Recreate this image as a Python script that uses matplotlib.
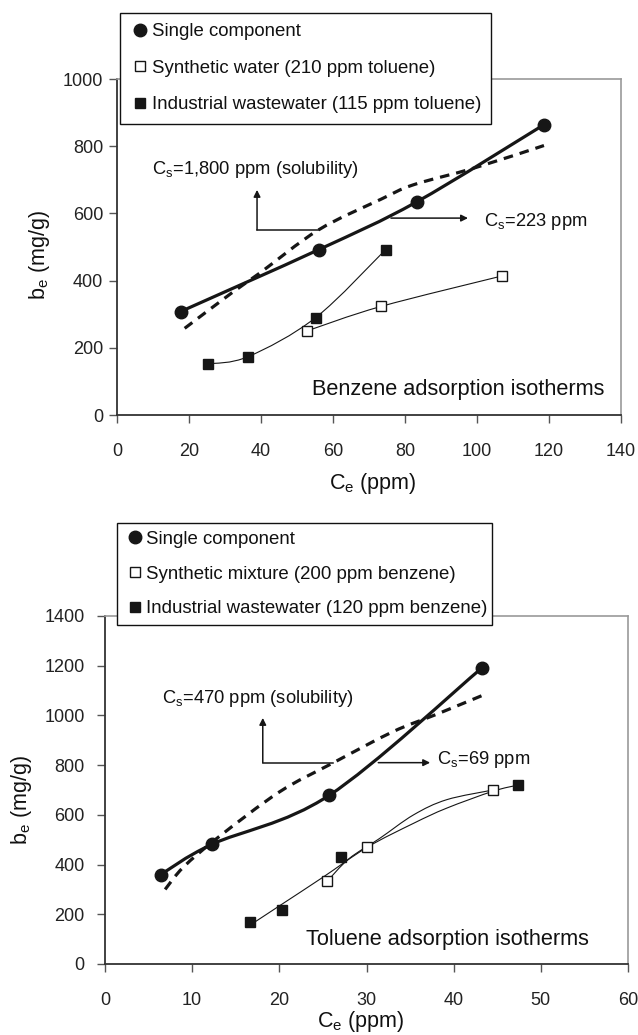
import numpy as np
import matplotlib
matplotlib.use("Agg")
import matplotlib.pyplot as plt
from matplotlib.path import Path
from matplotlib.patches import PathPatch
from matplotlib.lines import Line2D

plt.rcParams["font.family"] = ["Liberation Sans", "DejaVu Sans"]
plt.rcParams["mathtext.default"] = "regular"

# ---------------------------------------------------------
# DATA
# ---------------------------------------------------------
# Benzene (top panel)
benz_single_x = [17.7, 56.0, 83.2, 118.6]
benz_single_y = [308, 492, 634, 864]
benz_synth_x = [52.7, 73.3, 107.0]
benz_synth_y = [250, 323, 414]
benz_ind_x = [25.3, 36.5, 55.2, 74.6]
benz_ind_y = [152, 174, 290, 492]
benz_model_x = [18.8, 31.7, 39.6, 56.0, 73.3, 82.3, 99.2, 118.6]
benz_model_y = [258, 362, 422, 551, 642, 685, 735, 802]

# Toluene (bottom panel)
tol_single_x = [6.4, 12.3, 25.7, 43.2]
tol_single_y = [360, 482, 678, 1190]
tol_synth_x = [25.5, 30.1, 44.5]
tol_synth_y = [333, 470, 700]
tol_ind_x = [16.6, 20.3, 27.1, 47.4]
tol_ind_y = [168, 216, 430, 720]
tol_model_x = [6.9, 9.0, 13.0, 20.0, 26.0, 33.0, 38.0, 43.4]
tol_model_y = [300, 390, 510, 692, 806, 934, 1004, 1082]
tol_ind_fit_x = [16.8, 20.1, 25.0, 30.1, 35.4, 39.2, 44.5, 47.4]
tol_ind_fit_y = [160, 236, 349, 470, 566, 627, 695, 720]
tol_synth_fit_x = [25.5, 28.0, 31.5, 35.4, 39.2, 44.5]
tol_synth_fit_y = [333, 424, 505, 600, 661, 700]

benz_labels = ["Single component",
               "Synthetic water (210 ppm toluene)",
               "Industrial wastewater (115 ppm toluene)"]
tol_labels = ["Single component",
              "Synthetic mixture (200 ppm benzene)",
              "Industrial wastewater (120 ppm benzene)"]

INK = "#161616"
TXT = "#111111"


# ---------------------------------------------------------
# HELPERS
# ---------------------------------------------------------
def smooth_path(xs, ys):
    # excel-like smoothed line: bezier segments through the points
    pts = np.column_stack([xs, ys]).astype(float)
    n = len(pts)
    verts = [pts[0]]
    codes = [Path.MOVETO]
    for i in range(n - 1):
        p0 = pts[max(i - 1, 0)]
        p1 = pts[i]
        p2 = pts[i + 1]
        p3 = pts[min(i + 2, n - 1)]
        verts += [p1 + (p2 - p0) / 6, p2 - (p3 - p1) / 6, p2]
        codes += [Path.CURVE4] * 3
    return Path(verts, codes)


def curve(ax, xs, ys, **kw):
    ax.add_patch(PathPatch(smooth_path(xs, ys), fill=False, color=INK, **kw))


def style_axes(ax, xmax, xstep, ymax, ystep, ypad):
    ax.set_xlim(0, xmax)
    ax.set_ylim(0, ymax)
    ax.set_xticks(np.arange(0, xmax + 1, xstep))
    ax.set_yticks(np.arange(0, ymax + 1, ystep))
    for s in ["top", "right"]:
        ax.spines[s].set_color("#9a9a9a")
        ax.spines[s].set_linewidth(1.2)
    for s in ["left", "bottom"]:
        ax.spines[s].set_color("#333333")
        ax.spines[s].set_linewidth(1.3)
    ax.tick_params(axis="both", length=6, width=1, color="#555555",
                   labelsize=13, labelcolor="#222222")
    ax.tick_params(axis="x", pad=14)
    ax.tick_params(axis="y", pad=ypad)


def elbow_arrow(ax, x0, y0, x_right, y_top):
    ax.plot([x0, x_right], [y0, y0], color=INK, lw=1.1, zorder=3)
    ax.annotate("", xy=(x0, y_top), xytext=(x0, y0),
                arrowprops=dict(arrowstyle="-|>", color=INK, lw=1.1,
                                mutation_scale=10, shrinkA=0, shrinkB=0))


def side_arrow(ax, x0, x1, y):
    ax.annotate("", xy=(x1, y), xytext=(x0, y),
                arrowprops=dict(arrowstyle="-|>", color=INK, lw=1.1,
                                mutation_scale=10, shrinkA=0, shrinkB=0))


def add_legend(fig, ax, labels, box, spacing, pad):
    handles = [
        Line2D([], [], ls="none", marker="o", ms=9, color=INK),
        Line2D([], [], ls="none", marker="s", ms=7.5, mfc="white", mec=INK, mew=1),
        Line2D([], [], ls="none", marker="s", ms=7.5, color=INK),
    ]
    x0, y0, x1, y1 = box
    leg = ax.legend(handles, labels, loc="upper left", mode="expand",
                    bbox_to_anchor=(x0 / 638, 1 - y1 / 1035, (x1 - x0) / 638, (y1 - y0) / 1035),
                    bbox_transform=fig.transFigure, borderaxespad=0,
                    fontsize=13.4, labelspacing=spacing, borderpad=pad,
                    handlelength=1.1, handletextpad=0.05, fancybox=False,
                    framealpha=1, edgecolor="#111111")
    leg.get_frame().set_linewidth(1.0)
    leg.set_zorder(10)
    for t in leg.get_texts():
        t.set_color(TXT)


# ---------------------------------------------------------
# FIGURE
# ---------------------------------------------------------
fig = plt.figure(figsize=(6.38, 10.35), dpi=100)

# ----- Benzene -----
ax1 = fig.add_axes([117 / 638, 1 - 415 / 1035, 504 / 638, 336 / 1035])
style_axes(ax1, 140, 20, 1000, 200, 4)

curve(ax1, benz_model_x, benz_model_y, lw=2.3, linestyle=(0, (3, 2.2)), zorder=2)
curve(ax1, benz_single_x, benz_single_y, lw=2.3, zorder=2)
curve(ax1, benz_synth_x, benz_synth_y, lw=0.8, zorder=2)
curve(ax1, benz_ind_x, benz_ind_y, lw=0.8, zorder=2)
ax1.plot(benz_single_x, benz_single_y, ls="none", marker="o", ms=9, color=INK, zorder=4)
ax1.plot(benz_synth_x, benz_synth_y, ls="none", marker="s", ms=7.5,
         mfc="white", mec=INK, mew=1, zorder=4)
ax1.plot(benz_ind_x, benz_ind_y, ls="none", marker="s", ms=7.5, color=INK, zorder=4)

elbow_arrow(ax1, 38.9, 551, 56.0, 670)
side_arrow(ax1, 76.1, 97.5, 586)
ax1.text(9.6, 730, "C$_s$=1,800 ppm (solubility)", fontsize=13.2, va="center", color=TXT)
ax1.text(102, 576, "C$_s$=223 ppm", fontsize=13.2, va="center", color=TXT)
ax1.text(54.2, 76, "Benzene adsorption isotherms", fontsize=15.7, va="center", color=TXT)

ax1.set_xlabel("C$_e$ (ppm)", fontsize=15.5, color=TXT)
ax1.set_ylabel("b$_e$ (mg/g)", fontsize=15.5, color=TXT)
ax1.xaxis.set_label_coords(0.508, -0.166)
ax1.yaxis.set_label_coords(-0.129, 0.475)
add_legend(fig, ax1, benz_labels, (120, 13, 491, 123), 1.05, 0.55)

# ----- Toluene -----
ax2 = fig.add_axes([105 / 638, 1 - 964 / 1035, 523 / 638, 348 / 1035])
style_axes(ax2, 60, 10, 1400, 200, 8.5)

curve(ax2, tol_model_x, tol_model_y, lw=2.3, linestyle=(0, (3, 2.2)), zorder=2)
curve(ax2, tol_single_x, tol_single_y, lw=2.3, zorder=2)
curve(ax2, tol_synth_fit_x, tol_synth_fit_y, lw=0.8, zorder=2)
curve(ax2, tol_ind_fit_x, tol_ind_fit_y, lw=0.8, zorder=2)
ax2.plot(tol_single_x, tol_single_y, ls="none", marker="o", ms=9, color=INK, zorder=4)
ax2.plot(tol_synth_x, tol_synth_y, ls="none", marker="s", ms=7.5,
         mfc="white", mec=INK, mew=1, zorder=4)
ax2.plot(tol_ind_x, tol_ind_y, ls="none", marker="s", ms=7.5, color=INK, zorder=4)

elbow_arrow(ax2, 18.1, 810, 26.1, 990)
side_arrow(ax2, 31.35, 37.3, 810)
ax2.text(6.55, 1068, "C$_s$=470 ppm (solubility)", fontsize=13.2, va="center", color=TXT)
ax2.text(38.1, 822, "C$_s$=69 ppm", fontsize=13.2, va="center", color=TXT)
ax2.text(23.1, 97, "Toluene adsorption isotherms", fontsize=15.7, va="center", color=TXT)

ax2.set_xlabel("C$_e$ (ppm)", fontsize=15.5, color=TXT)
ax2.set_ylabel("b$_e$ (mg/g)", fontsize=15.5, color=TXT)
ax2.xaxis.set_label_coords(0.488, -0.128)
ax2.yaxis.set_label_coords(-0.135, 0.47)
add_legend(fig, ax2, tol_labels, (117, 523, 492, 623), 0.95, 0.42)

fig.savefig("out.png", dpi=100)
